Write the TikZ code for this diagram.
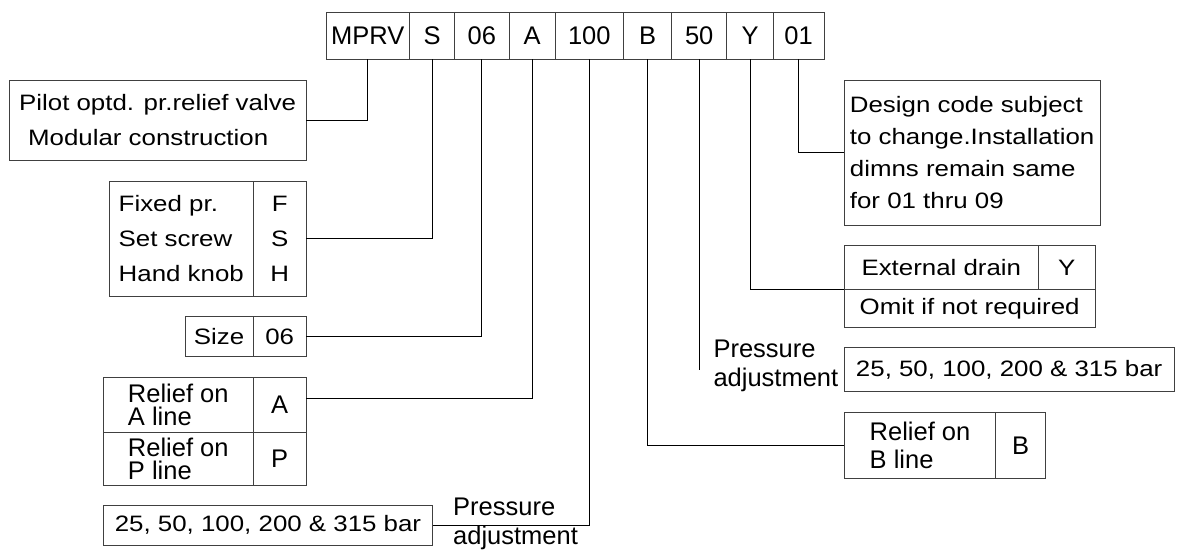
\documentclass[tikz,border=0pt]{standalone}
\usepackage{fontspec}
\setmainfont{Liberation Sans}
\newfontfamily\widefont{Liberation Sans}[FakeStretch=1.16]
\usepackage{tikz}
\usetikzlibrary{positioning}

\begin{document}
\begin{tikzpicture}[x=1pt,y=-1pt,
  cell/.style={draw=black!75, line width=0.9pt, inner sep=0pt, outer sep=0pt, anchor=north west},
  big/.style={font=\fontsize{25.5}{#1}\selectfont}, big/.default=28.3,
  wide/.style={font=\widefont\fontsize{22.3}{#1}\selectfont}, wide/.default=27,
  lead/.style={line width=0.9pt},
  lbl/.style={inner sep=0pt, anchor=west, align=left}]
  \useasboundingbox (0,0) rectangle (1177,552);
  % model code
  \node[cell,big,minimum width=83.3pt,minimum height=46.6pt] (mprv) at (326,12.7) {MPRV};
  \node[cell,big,minimum width=45.4pt,minimum height=46.6pt] (cs) at (409.3,12.7) {S};
  \node[cell,big,minimum width=54.3pt,minimum height=46.6pt] (c06) at (454.7,12.7) {06};
  \node[cell,big,minimum width=46.3pt,minimum height=46.6pt] (ca) at (509,12.7) {A};
  \node[cell,big,minimum width=68pt,minimum height=46.6pt] (c100) at (555.3,12.7) {100};
  \node[cell,big,minimum width=48.4pt,minimum height=46.6pt] (cb) at (623.3,12.7) {B};
  \node[cell,big,minimum width=55pt,minimum height=46.6pt] (c50) at (671.7,12.7) {50};
  \node[cell,big,minimum width=46.6pt,minimum height=46.6pt] (cy) at (726.7,12.7) {Y};
  \node[cell,big,minimum width=50.7pt,minimum height=46.6pt] (c01) at (773.3,12.7) {01};
  % left side
  \node[cell,wide=34.7,align=left,minimum width=296.7pt,minimum height=80.7pt] (pilot) at (9.3,80)
    {Pilot optd. pr.relief valve\\\hspace*{9pt}Modular construction};
  \node[cell,wide=35,align=left,minimum width=144pt,minimum height=114.3pt] (fix) at (109.3,181.7)
    {Fixed pr.\\Set screw\\Hand knob};
  \node[cell,wide=35,align=center,minimum width=52.7pt,minimum height=114.3pt] (fixc) at (253.3,181.7)
    {F\\S\\H};
  \node[cell,wide,minimum width=68.3pt,minimum height=39.3pt] (size) at (185,316.7) {Size};
  \node[cell,wide,minimum width=52.7pt,minimum height=39.3pt] (sizec) at (253.3,316.7) {06};
  \node[cell,big=23.5,align=left,minimum width=150pt,minimum height=55.4pt] (rela) at (103.3,377.3)
    {Relief on\\A line};
  \node[cell,big,minimum width=52.7pt,minimum height=55.4pt] (relac) at (253.3,377.3) {A};
  \node[cell,big=23.5,align=left,minimum width=150pt,minimum height=52.3pt] (relp) at (103.3,432.7)
    {Relief on\\P line};
  \node[cell,big,minimum width=52.7pt,minimum height=52.3pt] (relpc) at (253.3,432.7) {P};
  \node[cell,wide,minimum width=329.4pt,minimum height=40pt] (barl) at (103.3,505)
    {25, 50, 100, 200 \& 315 bar};
  \node[lbl,big] (presl) at (453,524) {Pressure\\adjustment};
  % right side
  \node[cell,wide=32,align=left,minimum width=255.7pt,minimum height=144.3pt] (design) at (844.3,80.7)
    {Design code subject\\to change.Installation\\dimns remain same\\for 01 thru 09};
  \node[cell,wide,minimum width=194pt,minimum height=43.6pt] (ext) at (844.3,245.7) {External drain};
  \node[cell,wide,minimum width=56.7pt,minimum height=43.6pt] (extc) at (1038.3,245.7) {Y};
  \node[cell,wide,minimum width=250.7pt,minimum height=38pt] (omit) at (844.3,289.3) {Omit if not required};
  \node[cell,wide,minimum width=329.7pt,minimum height=44.4pt] (barr) at (844.3,347.3)
    {25, 50, 100, 200 \& 315 bar};
  \node[lbl,big] (presr) at (713.3,366) {Pressure\\adjustment};
  \node[cell,big,align=left,minimum width=151.4pt,minimum height=66pt] (relb) at (844.3,412.3)
    {Relief on\\B line};
  \node[cell,big,minimum width=50pt,minimum height=66pt] (relbc) at (995.7,412.3) {B};
  % leader lines
  \coordinate (end50) at (c50.south |- barr.west);
  \draw[lead] (mprv.south) |- (pilot.east);
  \draw[lead] (cs.south) |- (fixc.east);
  \draw[lead] (c06.south) |- (sizec.east);
  \draw[lead] (ca.south) |- ([yshift=7pt]relac.east);
  \draw[lead] (c100.south) |- (barl.east);
  \draw[lead] (cb.south) |- (relb.west);
  \draw[lead] (c50.south) -- (end50);
  \draw[lead] (cy.south) |- (omit.north west);
  \draw[lead] (c01.south) |- (design.west);
\end{tikzpicture}
\end{document}
